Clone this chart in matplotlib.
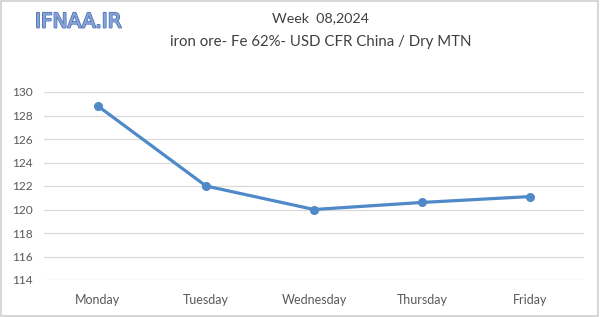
import matplotlib
matplotlib.use("Agg")
import matplotlib.pyplot as plt
import matplotlib.patheffects as pe
from matplotlib.patches import Rectangle

days = ["Monday", "Tuesday", "Wednesday", "Thursday", "Friday"]
prices = [128.8, 122.0, 120.0, 120.6, 121.1]
yticks = [114, 116, 118, 120, 122, 124, 126, 128, 130]

plt.rcParams["font.family"] = ["Lato", "DejaVu Sans"]

fig = plt.figure(figsize=(6, 3.17), dpi=100)
ax = fig.add_axes([44 / 600, 1 - 280 / 317, 540 / 600, 188 / 317])

ax.plot(range(len(days)), prices, color="#4f89c7", lw=2.3,
        marker="o", ms=5.5, solid_capstyle="round", zorder=3)

ax.set_xlim(-0.5, len(days) - 0.5)
ax.set_ylim(114, 130)
ax.set_yticks(yticks)
ax.set_xticks(range(len(days)))
ax.set_xticklabels(days)
ax.grid(axis="y", color="#d9d9d9", lw=0.9)
ax.set_axisbelow(True)
for s in ax.spines.values():
    s.set_visible(False)
ax.tick_params(length=0, colors="#595959")
ax.tick_params(axis="x", pad=10, labelsize=9)
ax.tick_params(axis="y", pad=8, labelsize=8.6)

fig.text(0.535, 1 - 18 / 317, "Week  08,2024", ha="center", va="center",
         fontsize=10.3, color="#404040")
fig.text(0.535, 1 - 42 / 317, "iron ore- Fe 62%- USD CFR China / Dry MTN",
         ha="center", va="center", fontsize=10.8, color="#404040")

logo = fig.text(35 / 600, 1 - 22 / 317, "IFNAA.IR", ha="left", va="center",
                fontsize=14.5, color="#85a3d9", family="DejaVu Sans")
logo.set_path_effects([pe.withStroke(linewidth=1.3, foreground="#4a6fb0"),
                       pe.Normal()])

fig.patches.append(Rectangle((0.002, 0.003), 0.994, 0.994, transform=fig.transFigure,
                             fill=False, edgecolor="#d0d0d0", lw=1.2))

fig.savefig("out.png", dpi=100)
